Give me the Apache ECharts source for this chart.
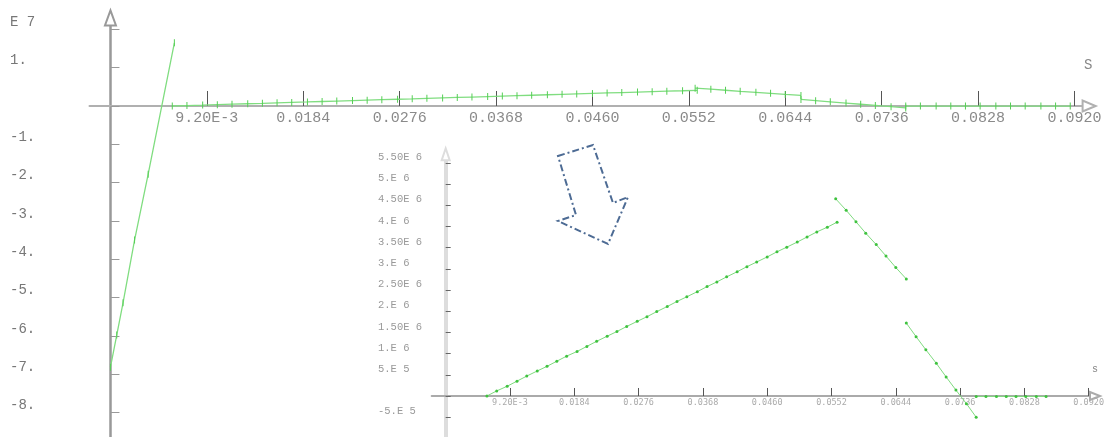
<!DOCTYPE html>
<html><head><meta charset="utf-8">
<script src="https://cdn.jsdelivr.net/npm/echarts@6/dist/echarts.min.js"></script>
<style>html,body{margin:0;padding:0;background:#fff}#c{width:1109px;height:437px}</style>
</head><body><div id="c"></div>
<script>
// ---- data ----
const steepX = [0, 0.0006, 0.0012, 0.0023, 0.0036, 0.0061];
const steepY = [-6.82e7, -5.98e7, -5.14e7, -3.50e7, -1.78e7, 1.65e7];

const riseX = [0.0059, 0.0073, 0.0088, 0.0102, 0.0116, 0.0131, 0.0145, 0.0159, 0.0173, 0.0188,
               0.0202, 0.0216, 0.0231, 0.0245, 0.0259, 0.0274, 0.0288, 0.0302, 0.0317, 0.0331,
               0.0345, 0.0360, 0.0374, 0.0388, 0.0402, 0.0417, 0.0431, 0.0445, 0.0460, 0.0474,
               0.0488, 0.0503, 0.0517, 0.0531, 0.0546, 0.0560];
const riseY = [0, 0.12e6, 0.23e6, 0.35e6, 0.47e6, 0.59e6, 0.70e6, 0.82e6, 0.94e6, 1.05e6,
               1.17e6, 1.29e6, 1.41e6, 1.52e6, 1.64e6, 1.76e6, 1.87e6, 1.99e6, 2.11e6, 2.23e6,
               2.34e6, 2.46e6, 2.58e6, 2.69e6, 2.81e6, 2.93e6, 3.05e6, 3.16e6, 3.28e6, 3.40e6,
               3.51e6, 3.63e6, 3.75e6, 3.87e6, 3.98e6, 4.10e6];

const dropX = [0.0558, 0.0573, 0.0587, 0.0601, 0.0616, 0.0630, 0.0644, 0.0659];
const dropY = [4.65e6, 4.38e6, 4.11e6, 3.84e6, 3.57e6, 3.30e6, 3.03e6, 2.76e6];

const fallX = [0.0659, 0.0673, 0.0687, 0.0702, 0.0716, 0.0730, 0.0745, 0.0759];
const fallY = [1.72e6, 1.40e6, 1.09e6, 0.77e6, 0.45e6, 0.14e6, -0.18e6, -0.50e6];

const flatX = [0.0759, 0.0773, 0.0788, 0.0802, 0.0816, 0.0830, 0.0845, 0.0859];
const flatY = [-1e4, -1e4, -1e4, -1e4, -1e4, -1e4, -1e4, -1e4];

const tailX = [0.0873, 0.0888, 0.0902, 0.0916];
const tailY = [-1e4, -1e4, -1e4, -1e4];

// ---- ticks ----
const xTickValues = [0.0092, 0.0184, 0.0276, 0.0368, 0.0460, 0.0552, 0.0644, 0.0736, 0.0828, 0.0920];
const xTickLabels = ['9.20E-3', '0.0184', '0.0276', '0.0368', '0.0460', '0.0552', '0.0644', '0.0736', '0.0828', '0.0920'];
const mainYTickValues = [2e7, 1e7, 0, -1e7, -2e7, -3e7, -4e7, -5e7, -6e7, -7e7, -8e7];
const mainYTickLabels = ['E 7', '1.', '', '-1.', '-2.', '-3.', '-4.', '-5.', '-6.', '-7.', '-8.'];
const insetYTickValues = [5.5e6, 5e6, 4.5e6, 4e6, 3.5e6, 3e6, 2.5e6, 2e6, 1.5e6, 1e6, 5e5, 0, -5e5];
const insetYTickLabels = ['5.50E 6', '5.E 6', '4.50E 6', '4.E 6', '3.50E 6', '3.E 6', '2.50E 6', '2.E 6', '1.50E 6', '1.E 6', '5.E 5', '', '-5.E 5'];

function pairs(xs, ys) { return xs.map((x, i) => [x, ys[i]]); }
function lookup(values, labels) {
  return function (v) {
    let best = 0, bd = Infinity;
    values.forEach((t, i) => { const d = Math.abs(t - v); if (d < bd) { bd = d; best = i; } });
    return labels[best];
  };
}

const chart = echarts.init(document.getElementById('c'), null, { renderer: 'canvas' });

const mainLine = { color: '#80dd80', width: 1.3 };
const mainItem = { color: '#55cf55' };
const insetLine = { color: '#80db80', width: 1 };
const insetItem = { color: '#3fc23f' };

function mainSeries(xs, ys) {
  return { type: 'line', xAxisIndex: 0, yAxisIndex: 0, data: pairs(xs, ys),
    symbol: 'rect', symbolSize: [1, 7], showSymbol: true, lineStyle: mainLine, itemStyle: mainItem,
    silent: true, animation: false, z: 3 };
}
function insetSeries(xs, ys) {
  return { type: 'line', xAxisIndex: 1, yAxisIndex: 1, data: pairs(xs, ys),
    symbol: 'circle', symbolSize: 3, showSymbol: true, lineStyle: insetLine, itemStyle: insetItem,
    silent: true, animation: false, z: 5 };
}

// grid geometry
const G0 = { left: 89.5, right: 19.9, top: 17.9, bottom: -13.7 };
const G1 = { left: 431.7, right: 14, top: 154.3, bottom: -1.4 };

const option = {
  animation: false,
  backgroundColor: '#fff',
  grid: [
    Object.assign({ containLabel: false, outerBoundsMode: 'none' }, G0),
    Object.assign({ containLabel: false, outerBoundsMode: 'none' }, G1)
  ],
  xAxis: [
    { type: 'value', gridIndex: 0, min: -0.002, max: 0.0934,
      name: 'S', nameLocation: 'end', nameGap: -5,
      nameTextStyle: { color: '#888', fontFamily: 'Liberation Mono', fontSize: 14, verticalAlign: 'bottom', padding: [0, 0, 34, 0] },
      axisLine: { onZero: true, symbol: ['none', 'emptyTriangle'], symbolSize: [11, 13], lineStyle: { color: '#b0b0b0', width: 2 } },
      axisTick: { show: true, inside: true, length: 15, customValues: xTickValues, lineStyle: { color: '#555', width: 1 } },
      axisLabel: { show: true, customValues: xTickValues, formatter: lookup(xTickValues, xTickLabels),
        margin: -(437 - G0.bottom - 111),
        color: '#8a8a8a', fontFamily: 'Liberation Mono', fontSize: 15 },
      splitLine: { show: false } },
    { type: 'value', gridIndex: 1, min: -0.002, max: 0.0929,
      name: 's', nameLocation: 'end', nameGap: -3,
      nameTextStyle: { color: '#888', fontFamily: 'Liberation Mono', fontSize: 10, verticalAlign: 'bottom', padding: [0, 0, 22, 0] },
      axisLine: { onZero: true, symbol: ['none', 'emptyTriangle'], symbolSize: [8, 10], lineStyle: { color: '#aaa', width: 2 } },
      axisTick: { show: true, inside: true, length: 8, customValues: xTickValues, lineStyle: { color: '#555', width: 1 } },
      axisLabel: { show: true, customValues: xTickValues, formatter: lookup(xTickValues, xTickLabels),
        margin: -(437 - G1.bottom - 398.5),
        color: '#aaa', fontFamily: 'DejaVu Sans Mono', fontSize: 8.5 },
      splitLine: { show: false } }
  ],
  yAxis: [
    { type: 'value', gridIndex: 0, min: -9e7, max: 2.3e7,
      axisLine: { onZero: true, symbol: ['none', 'emptyTriangle'], symbolSize: [11, 15], lineStyle: { color: '#999', width: 2.5 } },
      axisTick: { show: true, inside: true, length: 9, customValues: mainYTickValues, lineStyle: { color: '#999', width: 1 } },
      axisLabel: { show: true, customValues: mainYTickValues, formatter: lookup(mainYTickValues, mainYTickLabels),
        align: 'left', verticalAlign: 'bottom', margin: G0.left - 10, color: '#777', fontFamily: 'Liberation Mono', fontSize: 14 },
      splitLine: { show: false } },
    { type: 'value', gridIndex: 1, min: -1e6, max: 5.7e6,
      axisLine: { onZero: true, symbol: ['none', 'emptyTriangle'], symbolSize: [8, 12], lineStyle: { color: '#ddd', width: 4 } },
      axisTick: { show: true, inside: true, length: 5, customValues: insetYTickValues, lineStyle: { color: '#666', width: 1 } },
      axisLabel: { show: true, customValues: insetYTickValues, formatter: lookup(insetYTickValues, insetYTickLabels),
        align: 'left', verticalAlign: 'bottom', margin: G1.left - 378, color: '#999', fontFamily: 'Liberation Mono', fontSize: 10.5 },
      splitLine: { show: false } }
  ],
  graphic: [
    { type: 'polygon', z: 10, silent: true,
      shape: { points: [[558, 156], [593, 145], [613, 203], [628, 197], [608, 244], [558, 221], [576, 215]] },
      style: { fill: 'none', stroke: '#4d6b94', lineWidth: 2, lineDash: [7, 3, 2, 3] } }
  ],
  series: [
    mainSeries(steepX, steepY),
    mainSeries(riseX, riseY),
    mainSeries(dropX, dropY),
    mainSeries(fallX, fallY),
    mainSeries(flatX.concat(tailX), flatY.concat(tailY)),
    insetSeries(riseX, riseY),
    insetSeries(dropX, dropY),
    insetSeries(fallX, fallY),
    insetSeries(flatX, flatY)
  ]
};
chart.setOption(option);
</script>
</body></html>
